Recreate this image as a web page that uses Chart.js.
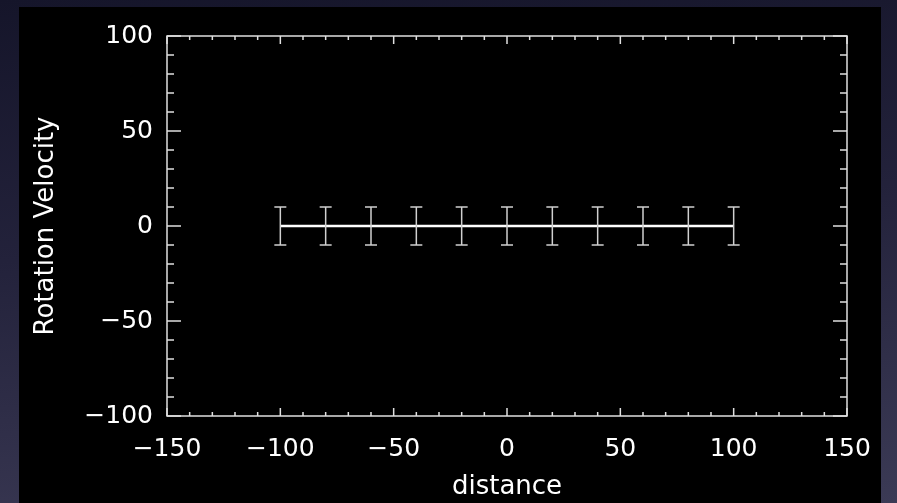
<!DOCTYPE html>
<html>
<head>
<meta charset="utf-8">
<script src="https://cdn.jsdelivr.net/npm/chart.js@4.4.1/dist/chart.umd.min.js"></script>
<style>
  html, body { margin: 0; padding: 0; width: 897px; height: 503px; overflow: hidden; }
  body { background: linear-gradient(175deg, #15152a 0%, #23223b 45%, #3b3a55 100%); position: relative; }
  #wrap { position: absolute; left: 19px; top: 7px; width: 862px; height: 496px; background: #000; }
  canvas { display: block; }
</style>
</head>
<body>
<div id="wrap"><canvas id="c" width="862" height="496"></canvas></div>
<script>
// Rotation curve samples: distance vs rotation velocity with symmetric errors
const distance = [-100, -80, -60, -40, -20, 0, 20, 40, 60, 80, 100];
const velocity = [0, 0, 0, 0, 0, 0, 0, 0, 0, 0, 0];
const velocityErr = [10, 10, 10, 10, 10, 10, 10, 10, 10, 10, 10];
const xTickValues = [-150, -100, -50, 0, 50, 100, 150];
const yTickValues = [-100, -50, 0, 50, 100];
const minorStep = 10;

const fmt = v => (v < 0 ? '\u2212' + Math.abs(v) : String(v));

// Error bars drawn through the chart scales
const errorBars = {
  id: 'errorBars',
  afterDatasetsDraw(chart) {
    const { ctx, scales: { x, y } } = chart;
    ctx.save();
    ctx.strokeStyle = '#d0d0d0';
    ctx.lineWidth = 1.5;
    const cap = 6;
    distance.forEach((d, i) => {
      const px = x.getPixelForValue(d);
      const top = y.getPixelForValue(velocity[i] + velocityErr[i]);
      const bot = y.getPixelForValue(velocity[i] - velocityErr[i]);
      ctx.beginPath();
      ctx.moveTo(px, top); ctx.lineTo(px, bot);
      ctx.moveTo(px - cap, top); ctx.lineTo(px + cap, top);
      ctx.moveTo(px - cap, bot); ctx.lineTo(px + cap, bot);
      ctx.stroke();
    });
    ctx.restore();
  }
};

// Boxed frame with inward major and minor ticks on all four sides
const frame = {
  id: 'frame',
  afterDraw(chart) {
    const { ctx, chartArea: a, scales: { x, y } } = chart;
    ctx.save();
    ctx.strokeStyle = '#e0e0e0';
    ctx.lineWidth = 1.5;
    ctx.strokeRect(a.left, a.top, a.right - a.left, a.bottom - a.top);
    ctx.beginPath();
    const xMin = xTickValues[0], xMax = xTickValues[xTickValues.length - 1];
    for (let v = xMin; v <= xMax; v += minorStep) {
      const major = xTickValues.includes(v);
      const len = major ? 8 : 4;
      const px = x.getPixelForValue(v);
      ctx.moveTo(px, a.bottom); ctx.lineTo(px, a.bottom - len);
      ctx.moveTo(px, a.top); ctx.lineTo(px, a.top + len);
    }
    const yMin = yTickValues[0], yMax = yTickValues[yTickValues.length - 1];
    for (let v = yMin; v <= yMax; v += minorStep) {
      const major = yTickValues.includes(v);
      const len = major ? 14 : 7;
      const py = y.getPixelForValue(v);
      ctx.moveTo(a.left, py); ctx.lineTo(a.left + len, py);
      ctx.moveTo(a.right, py); ctx.lineTo(a.right - len, py);
    }
    ctx.stroke();
    ctx.restore();
  }
};

const tickFont = { family: 'DejaVu Sans', size: 25 };
const titleFont = { family: 'DejaVu Sans', size: 26 };

new Chart(document.getElementById('c'), {
  type: 'scatter',
  data: {
    datasets: [{
      data: distance.map((d, i) => ({ x: d, y: velocity[i] })),
      showLine: true,
      borderColor: '#ffffff',
      borderWidth: 2.5,
      pointRadius: 0,
      tension: 0
    }]
  },
  options: {
    responsive: false,
    animation: false,
    events: [],
    layout: { padding: { left: 0, top: 29, right: 34, bottom: 0 } },
    plugins: { legend: { display: false }, tooltip: { enabled: false } },
    scales: {
      x: {
        type: 'linear',
        min: xTickValues[0],
        max: xTickValues[xTickValues.length - 1],
        afterBuildTicks: s => { s.ticks = xTickValues.map(v => ({ value: v })); },
        afterFit: s => { s.height = 87; s.paddingLeft = 0; s.paddingRight = 0; },
        grid: { display: false, drawTicks: false },
        border: { display: false },
        ticks: { color: '#ffffff', font: tickFont, padding: 18, maxRotation: 0, callback: v => fmt(v) },
        title: { display: true, text: 'distance', color: '#ffffff', font: titleFont, padding: { top: 0, bottom: 0 } }
      },
      y: {
        type: 'linear',
        min: yTickValues[0],
        max: yTickValues[yTickValues.length - 1],
        afterBuildTicks: s => { s.ticks = yTickValues.map(v => ({ value: v })); },
        afterFit: s => { s.width = 148; s.paddingTop = 0; s.paddingBottom = 0; },
        grid: { display: false, drawTicks: false },
        border: { display: false },
        ticks: { color: '#ffffff', font: tickFont, padding: 14, callback: v => fmt(v) },
        title: { display: true, text: 'Rotation Velocity', color: '#ffffff', font: titleFont, padding: { top: 12, bottom: 0 } }
      }
    }
  },
  plugins: [errorBars, frame]
});
</script>
</body>
</html>
